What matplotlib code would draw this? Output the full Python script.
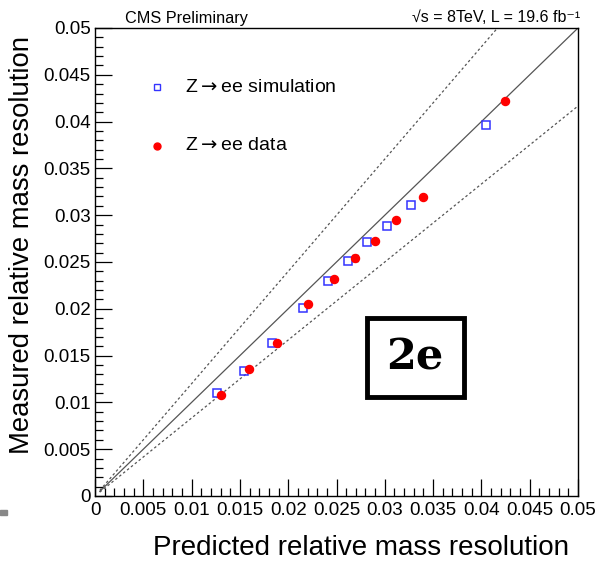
import numpy as np
import matplotlib.pyplot as plt
from matplotlib.ticker import MultipleLocator, FixedFormatter, FixedLocator
from matplotlib.patches import Rectangle

plt.rcParams['font.family'] = ['Liberation Sans', 'DejaVu Sans']

# Z->ee simulation (predicted, measured)
sim_pred = [0.01266, 0.01542, 0.01829, 0.02153, 0.02412, 0.02616, 0.02819, 0.03020, 0.03268, 0.04048]
sim_meas = [0.01104, 0.01335, 0.01631, 0.02009, 0.02300, 0.02511, 0.02710, 0.02885, 0.03109, 0.03964]

# Z->ee data
data_pred = [0.01307, 0.01594, 0.01884, 0.02205, 0.02474, 0.02692, 0.02902, 0.03119, 0.03399, 0.04244]
data_meas = [0.01076, 0.01354, 0.01638, 0.02051, 0.02322, 0.02540, 0.02728, 0.02946, 0.03191, 0.04220]
data_err = [0.0001, 0.0001, 0.0001, 0.0001, 0.0001, 0.0003, 0.0001, 0.0001, 0.0001, 0.0001]

tick_vals = [0, 0.005, 0.01, 0.015, 0.02, 0.025, 0.03, 0.035, 0.04, 0.045, 0.05]
tick_labels = ['0', '0.005', '0.01', '0.015', '0.02', '0.025', '0.03', '0.035', '0.04', '0.045', '0.05']

W, H = 597, 561
fig = plt.figure(figsize=(W / 100, H / 100), dpi=100)
ax = fig.add_axes([95 / W, 1 - 496 / H, 483 / W, 468 / H])

# reference lines: y = x and +-20%
xl = np.array([0.0005, 0.05])
ax.plot(xl, xl, color='#555555', lw=0.9)
ax.plot(xl, 1.2 * xl, color='#555555', lw=0.9, ls=(0, (2, 2)))
ax.plot(xl, xl / 1.2, color='#555555', lw=0.9, ls=(0, (2, 2)))

ax.errorbar(data_pred, data_meas, yerr=data_err, fmt='none', ecolor='black', lw=1, capsize=2, zorder=3)
ax.plot(sim_pred, sim_meas, ls='none', marker='s', ms=5.2, mfc='none', mec='#3333ff', mew=1.1, zorder=4)
ax.plot(data_pred, data_meas, ls='none', marker='o', ms=5.8, mfc='red', mec='red', zorder=5)

ax.set_xlim(0, 0.05)
ax.set_ylim(0, 0.05)
for a in (ax.xaxis, ax.yaxis):
    a.set_major_locator(FixedLocator(tick_vals))
    a.set_major_formatter(FixedFormatter(tick_labels))
    a.set_minor_locator(MultipleLocator(0.001))
ax.tick_params(which='both', direction='in', top=False, right=False, labelsize=13.5, color='black')
ax.tick_params(which='major', length=12, width=0.9)
ax.tick_params(which='minor', length=6, width=0.9)
ax.tick_params(axis='x', pad=4)
ax.tick_params(axis='y', pad=3)
for s in ax.spines.values():
    s.set_linewidth(1.0)

ax.set_xlabel('Predicted relative mass resolution', fontsize=20, va='center', ha='center')
ax.xaxis.set_label_coords((361 - 95) / 483, (496 - 548) / 468)
ax.set_ylabel('Measured relative mass resolution', fontsize=19.8, va='center', ha='center')
ax.yaxis.set_label_coords((22 - 95) / 483, (496 - 245) / 468)

# legend drawn by hand in axes coordinates
ax.plot([(157 - 95) / 483], [(496 - 87) / 468], transform=ax.transAxes, marker='s', ms=4.5,
        mfc='none', mec='#3333ff', mew=1.0, ls='none', clip_on=False)
ax.plot([(157 - 95) / 483], [(496 - 146) / 468], transform=ax.transAxes, marker='o', ms=5,
        mfc='red', mec='red', ls='none', clip_on=False)
ax.text((185 - 95) / 483, (496 - 87) / 468, 'Z$\\rightarrow$ee simulation', transform=ax.transAxes,
        fontsize=14, va='center', ha='left')
ax.text((185 - 95) / 483, (496 - 146) / 468, 'Z$\\rightarrow$ee data', transform=ax.transAxes,
        fontsize=14, va='center', ha='left')

# channel box
box = Rectangle(((367 - 95) / 483, (496 - 397) / 468), 97 / 483, 79 / 468, transform=ax.transAxes,
                fill=False, lw=3.5, ec='black', zorder=6)
ax.add_patch(box)
ax.text((415 - 95) / 483, (496 - 357) / 468, '2e', transform=ax.transAxes, fontsize=31,
        fontweight='bold', family='DejaVu Serif', ha='center', va='center', zorder=7)

fig.text(125 / W, 1 - 18 / H, 'CMS Preliminary', fontsize=11.7, ha='left', va='center')
fig.text(580 / W, 1 - 18 / H, '√s = 8TeV, L = 19.6 fb⁻¹', fontsize=11.5, ha='right', va='center')

fig.patches.append(Rectangle((0, 1 - 515 / H), 7 / W, 5 / H, transform=fig.transFigure,
                             color='#888888', figure=fig))

fig.savefig('out.png', dpi=100)
